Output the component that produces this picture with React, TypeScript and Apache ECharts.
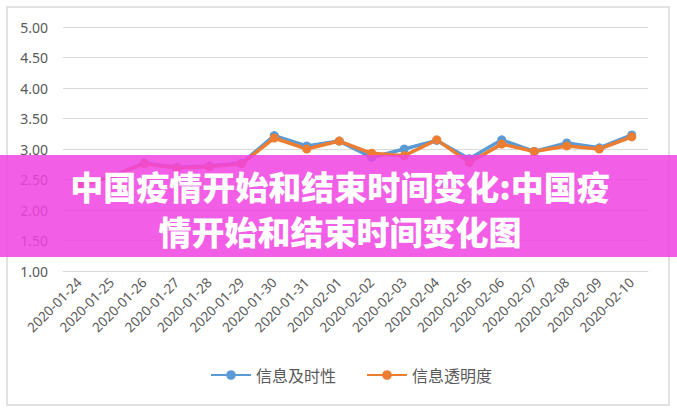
import { useEffect, useRef } from "react";
import * as echarts from "echarts";

const dates = [
  "2020-01-24", "2020-01-25", "2020-01-26", "2020-01-27", "2020-01-28", "2020-01-29",
  "2020-01-30", "2020-01-31", "2020-02-01", "2020-02-02", "2020-02-03", "2020-02-04",
  "2020-02-05", "2020-02-06", "2020-02-07", "2020-02-08", "2020-02-09", "2020-02-10"
];

const timeliness = [2.40, 2.55, 2.77, 2.70, 2.72, 2.77, 3.22, 3.05, 3.13, 2.86, 3.00, 3.14, 2.84, 3.15, 2.96, 3.10, 3.02, 3.23];
const transparency = [2.40, 2.55, 2.76, 2.69, 2.71, 2.76, 3.18, 3.00, 3.13, 2.93, 2.89, 3.15, 2.78, 3.08, 2.96, 3.05, 3.00, 3.20];

const seriesNames = ["信息及时性", "信息透明度"];
const titleLines = ["中国疫情开始和结束时间变化:中国疫", "情开始和结束时间变化图"];

export default function App() {
  const chartRef = useRef<HTMLDivElement>(null);

  useEffect(() => {
    document.body.style.margin = "0";
    if (!chartRef.current) return;
    const chart = echarts.init(chartRef.current, null, { renderer: "svg" });

    const lineSeries = (name: string, data: number[], color: string) => ({
      name,
      type: "line",
      data,
      symbol: "circle",
      symbolSize: 9,
      lineStyle: { color, width: 3.5 },
      itemStyle: { color },
      emphasis: { disabled: true }
    });

    // banner title: one text element per line
    const titleTexts = titleLines.map((line, i) => ({
      type: "text",
      z: 101,
      x: 340,
      y: 186 + i * 45,
      style: {
        text: line,
        fill: "#ffffff",
        font: "900 33px 'Noto Sans CJK SC'",
        align: "center",
        verticalAlign: "middle"
      }
    }));

    chart.setOption({
      animation: false,
      textStyle: { fontFamily: "Noto Sans, Noto Sans CJK SC, sans-serif" },
      grid: { left: 63, right: 29, top: 27, bottom: 143 },
      xAxis: {
        type: "category",
        data: dates,
        boundaryGap: true,
        axisLine: { lineStyle: { color: "#d9d9d9" } },
        axisTick: { show: false },
        axisLabel: { rotate: 45, interval: 0, color: "#595959", fontSize: 13.5, margin: 9 }
      },
      yAxis: {
        type: "value",
        min: 1,
        max: 5,
        interval: 0.5,
        axisLine: { show: false },
        axisTick: { show: false },
        splitLine: { lineStyle: { color: "#d9d9d9" } },
        axisLabel: {
          color: "#595959",
          fontSize: 14,
          margin: 15,
          formatter: (v: number) => v.toFixed(2)
        }
      },
      legend: {
        data: seriesNames,
        left: 205,
        top: 362,
        itemWidth: 40,
        itemHeight: 12,
        itemGap: 30,
        textStyle: { color: "#595959", fontSize: 16, fontFamily: "Noto Sans CJK SC" }
      },
      series: [
        lineSeries(seriesNames[0], timeliness, "#5b9bd5"),
        lineSeries(seriesNames[1], transparency, "#ed7d31")
      ],
      graphic: [
        {
          type: "rect",
          z: -1,
          shape: { x: 7, y: 7, width: 662, height: 398 },
          style: { fill: "none", stroke: "#d9d9d9", lineWidth: 1.5 }
        },
        {
          type: "rect",
          z: 100,
          shape: { x: 0, y: 155, width: 677, height: 102 },
          style: { fill: "rgba(241,66,226,0.85)" }
        },
        ...titleTexts
      ]
    });

    return () => {
      chart.dispose();
    };
  }, []);

  return <div ref={chartRef} style={{ width: "677px", height: "414px" }} />;
}
